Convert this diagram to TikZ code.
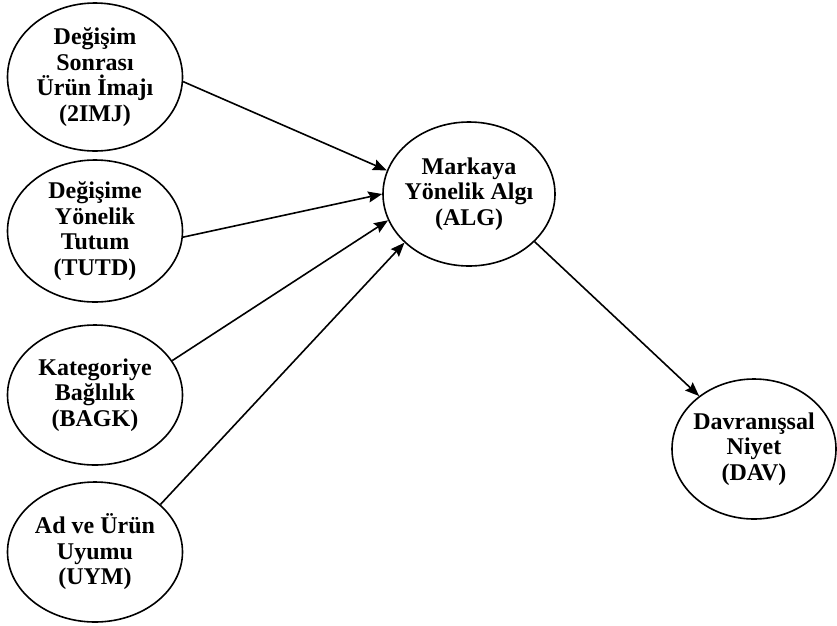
\documentclass[tikz,border=0pt]{standalone}
\usepackage{fontspec}
\setmainfont{Liberation Serif}
\usetikzlibrary{shapes.geometric,arrows.meta}
\begin{document}
\begin{tikzpicture}[x=1pt,y=-1pt,
    construct/.style={ellipse,draw,line width=1.6pt,inner sep=-14pt,
      minimum width=175pt,minimum height=144pt,align=center,
      font=\fontsize{24}{25.5}\selectfont\bfseries},
    effect/.style={line width=1.6pt,-{Stealth[length=14pt,width=11pt,inset=2pt]}}]
  \useasboundingbox (0,0) rectangle (837,625);
  \node[construct,minimum height=148pt] (imj) at (95,77) {Değişim\\Sonrası\\Ürün İmajı\\(2IMJ)};
  \node[construct,minimum height=142pt] (tutd) at (95,231) {Değişime\\Yönelik\\Tutum\\(TUTD)};
  \node[construct,minimum height=140pt] (bagk) at (95,395) {Kategoriye\\Bağlılık\\(BAGK)};
  \node[construct,minimum height=140pt] (uym) at (95,552) {Ad ve Ürün\\Uyumu\\(UYM)};
  \node[construct,minimum width=172pt] (alg) at (469,194) {Markaya\\Yönelik Algı\\(ALG)};
  \node[construct,minimum width=164pt,minimum height=140pt] (dav) at (754,449) {Davranışsal\\Niyet\\(DAV)};
  \draw[effect] (imj.-3) -- (alg.164);
  \draw[effect] (tutd.-4) -- (alg.west);
  \draw[effect] (bagk.24) -- (alg.198);
  \draw[effect] (uym.36) -- (alg.217);
  \draw[effect] (alg.-36) -- (dav.136);
\end{tikzpicture}
\end{document}
